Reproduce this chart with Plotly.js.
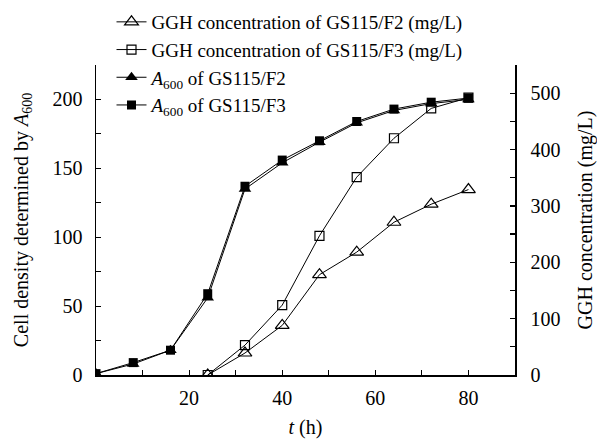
<!DOCTYPE html>
<html>
<head>
<meta charset="utf-8">
<script src="https://cdn.plot.ly/plotly-3.0.1.min.js"></script>
<style>
html,body{margin:0;padding:0;background:#fff;}
#chart{width:597px;height:439px;}
</style>
</head>
<body>
<div id="chart"></div>
<script>
const time = [0, 8, 16, 24, 32, 40, 48, 56, 64, 72, 80];
const timeGGH = [24, 32, 40, 48, 56, 64, 72, 80];
const a600F2 = [1, 8, 18, 56, 135, 154, 169, 183, 192, 197, 200];
const a600F3 = [1, 9, 18, 59, 137, 156, 170, 184, 193, 198, 201];
const gghF2 = [0, 39, 88, 178, 218, 271, 303, 329];
const gghF3 = [0, 53, 124, 247, 351, 420, 473, 492];
const seriesNames = [
  'GGH concentration of GS115/F2 (mg/L)',
  'GGH concentration of GS115/F3 (mg/L)',
  '<i>A</i><sub>600</sub> of GS115/F2',
  '<i>A</i><sub>600</sub> of GS115/F3'
];

const FONT = '"Liberation Serif", "Times New Roman", Times, serif';
const lineStyle = {color: '#000', width: 1};

const traces = [
  {x: timeGGH, y: gghF2, yaxis: 'y2', name: seriesNames[0], mode: 'lines+markers',
   line: lineStyle, marker: {symbol: 'triangle-up-open', size: 12, color: '#000', line: {width: 1.2, color: '#000'}}},
  {x: timeGGH, y: gghF3, yaxis: 'y2', name: seriesNames[1], mode: 'lines+markers',
   line: lineStyle, marker: {symbol: 'square-open', size: 9, color: '#000', line: {width: 1.2, color: '#000'}}},
  {x: time, y: a600F2, name: seriesNames[2], mode: 'lines+markers',
   line: lineStyle, marker: {symbol: 'triangle-up', size: 11, color: '#000'}},
  {x: time, y: a600F3, name: seriesNames[3], mode: 'lines+markers',
   line: lineStyle, marker: {symbol: 'square', size: 9, color: '#000'}}
];

const layout = {
  width: 597, height: 439,
  margin: {l: 96, r: 82, t: 65, b: 64, autoexpand: false},
  paper_bgcolor: '#fff', plot_bgcolor: 'rgba(0,0,0,0)',
  font: {family: FONT, size: 20, color: '#000'},
  showlegend: true,
  legend: {x: 0.037, xanchor: 'left', y: 1.2, yanchor: 'top', bgcolor: 'rgba(0,0,0,0)',
           font: {family: FONT, size: 19, color: '#000'}, tracegroupgap: 0, itemwidth: 30},
  xaxis: {range: [0, 90], tickvals: [20, 40, 60, 80], ticks: 'inside', ticklen: 5, tickwidth: 1.2,
          tickcolor: '#000', showgrid: false, zeroline: false, showline: true, linecolor: '#000', linewidth: 1.5,
          ticklabelstandoff: 4,
          minor: {dtick: 10, tick0: 0, ticks: 'inside', ticklen: 5, tickwidth: 1.2, tickcolor: '#000', showgrid: false},
          title: {text: '<i>t</i> (h)', font: {family: FONT, size: 20}, standoff: 14},
          tickfont: {family: FONT, size: 20}},
  yaxis: {range: [0, 225], dtick: 50, tick0: 0, ticks: 'inside', ticklen: 5, tickwidth: 1.2, tickcolor: '#000',
          showgrid: false, zeroline: false, showline: true, linecolor: '#000', linewidth: 1.5,
          ticklabelstandoff: 8,
          minor: {dtick: 25, ticks: 'inside', ticklen: 5, tickwidth: 1.2, tickcolor: '#000', showgrid: false},
          title: {text: 'Cell density determined by <i>A</i><sub>600</sub>', font: {family: FONT, size: 20}, standoff: 18},
          tickfont: {family: FONT, size: 20}},
  yaxis2: {range: [0, 550], dtick: 100, tick0: 0, overlaying: 'y', side: 'right', ticks: 'inside', ticklen: 5,
           tickwidth: 1.2, tickcolor: '#000', showgrid: false, zeroline: false, showline: true, linecolor: '#000', linewidth: 1.5,
           ticklabelstandoff: 10,
           minor: {dtick: 50, ticks: 'inside', ticklen: 5, tickwidth: 1.2, tickcolor: '#000', showgrid: false},
           title: {text: 'GGH concentration (mg/L)', font: {family: FONT, size: 20}, standoff: 18},
           tickfont: {family: FONT, size: 20}}
};

Plotly.newPlot('chart', traces, layout, {displayModeBar: false, staticPlot: true});
</script>
</body>
</html>
